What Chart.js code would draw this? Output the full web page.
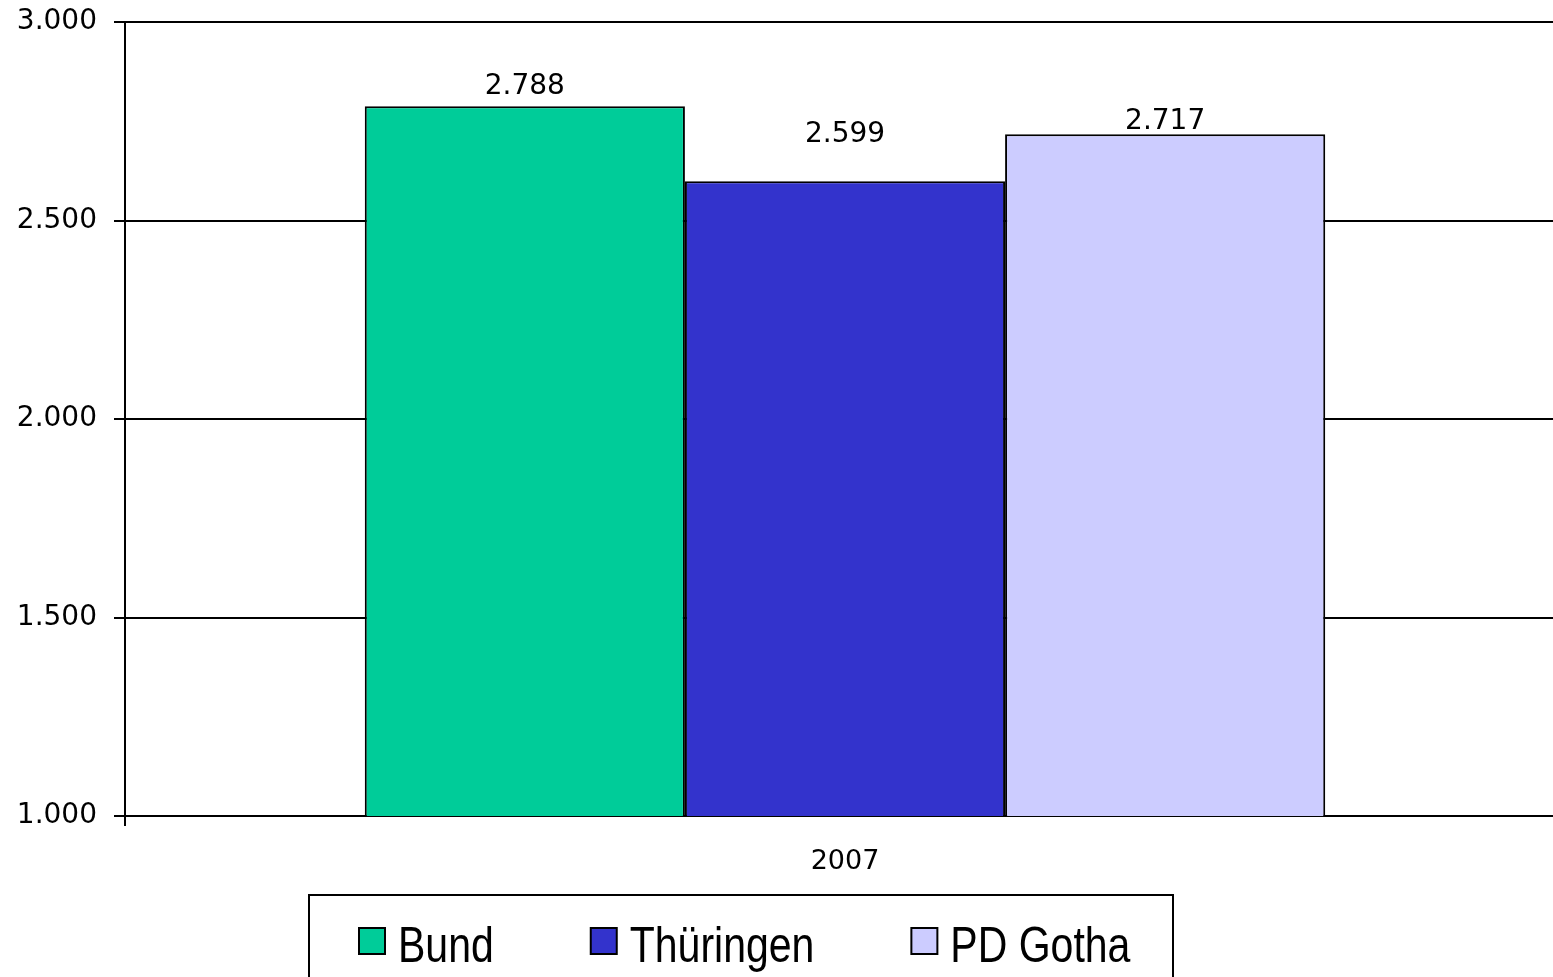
<!DOCTYPE html>
<html>
<head>
<meta charset="utf-8">
<script src="https://cdn.jsdelivr.net/npm/chart.js@4/dist/chart.umd.min.js"></script>
<style>
  html, body { margin: 0; padding: 0; background: #fff; overflow: hidden; }
  canvas { display: block; }
</style>
</head>
<body>
<!-- plot runs a little past the right edge, like the original -->
<canvas id="myChart" width="1565" height="977"></canvas>
<script>
  'use strict';

  // data
  var categories = ['2007'];
  var seriesNames = ['Bund', 'Thüringen', 'PD Gotha'];
  var seriesValues = [2788, 2599, 2717];
  var seriesColors = ['#00CC99', '#3333CC', '#CCCCFF'];
  var yTicks = [1000, 1500, 2000, 2500, 3000];

  // german thousands separator
  function fmt(v) {
    return String(Math.round(v)).replace(/\B(?=(\d{3})+(?!\d))/g, '.');
  }

  var datasets = seriesNames.map(function (name, i) {
    return {
      label: name,
      data: [seriesValues[i]],
      backgroundColor: seriesColors[i],
      borderColor: '#000',
      borderWidth: 2,
      borderSkipped: false,
      categoryPercentage: 0.667,
      barPercentage: 1.0
    };
  });

  //Value labels above the bars
  var valueLabels = {
    id: 'valueLabels',
    afterDatasetsDraw: function (chart, args, opts) {
      var ctx = chart.ctx;
      ctx.save();
      ctx.font = '28px "DejaVu Sans"';
      ctx.fillStyle = '#000';
      ctx.textAlign = 'center';
      ctx.textBaseline = 'middle';
      chart.data.datasets.forEach(function (ds, i) {
        var meta = chart.getDatasetMeta(i);
        meta.data.forEach(function (bar, j) {
          ctx.fillText(fmt(ds.data[j]), bar.x, bar.y - opts.offsets[i]);
        });
      });
      ctx.restore();
    }
  };

  //Framed legend at the bottom
  var boxLegend = {
    id: 'boxLegend',
    afterDraw: function (chart, args, opts) {
      var ctx = chart.ctx;
      ctx.save();
      ctx.lineWidth = 2;
      ctx.strokeStyle = '#000';
      ctx.strokeRect(opts.left, opts.top, opts.width, opts.height);

      ctx.font = '50px "Liberation Sans", Arial, sans-serif';
      ctx.textBaseline = 'alphabetic';
      var x = opts.left + 50;
      chart.data.datasets.forEach(function (ds) {
        ctx.fillStyle = ds.backgroundColor;
        ctx.fillRect(x, opts.boxTop, 26, 26);
        ctx.strokeRect(x, opts.boxTop, 26, 26);
        var tx = x + 39;
        var w = ctx.measureText(ds.label).width * opts.squeeze;
        ctx.save();
        ctx.translate(tx, opts.baseline);
        ctx.scale(opts.squeeze, 1);
        ctx.fillStyle = '#000';
        ctx.fillText(ds.label, 0, 0);
        ctx.restore();
        x = tx + w + 97;
      });
      ctx.restore();
    }
  };

  var ctx = document.getElementById('myChart').getContext('2d');
  var myChart = new Chart(ctx, {
    type: 'bar',
    data: {
      labels: categories,
      datasets: datasets
    },
    plugins: [valueLabels, boxLegend],
    options: {
      responsive: false,
      animation: false,
      layout: { padding: { top: 22, right: 0, left: 0, bottom: 0 } },
      plugins: {
        legend: { display: false },
        tooltip: { enabled: false },
        valueLabels: { offsets: [19, 46, 13] },
        boxLegend: { left: 309, top: 895, width: 864, height: 100, boxTop: 928, baseline: 962, squeeze: 0.82 }
      },
      scales: {
        x: {
          afterFit: function (scale) {
            scale.height = 161;
            scale.paddingLeft = 0;
            scale.paddingRight = 0;
          },
          grid: {
            display: true,
            drawOnChartArea: false,
            color: '#000',
            lineWidth: 2,
            tickLength: 10
          },
          border: { display: true, color: '#000', width: 2 },
          ticks: {
            color: '#000',
            padding: 20,
            font: { family: 'DejaVu Sans', size: 27 }
          }
        },
        y: {
          min: 1000,
          max: 3000,
          afterFit: function (scale) {
            scale.width = 125;
            scale.paddingTop = 0;
            scale.paddingBottom = 0;
          },
          afterBuildTicks: function (scale) {
            scale.ticks = yTicks.map(function (v) { return { value: v }; });
          },
          grid: {
            color: '#000',
            lineWidth: 2,
            tickLength: 11
          },
          border: { display: true, color: '#000', width: 2 },
          ticks: {
            color: '#000',
            padding: 17,
            font: { family: 'DejaVu Sans', size: 28 },
            callback: function (v) { return fmt(v); }
          }
        }
      }
    }
  });
</script>
</body>
</html>
